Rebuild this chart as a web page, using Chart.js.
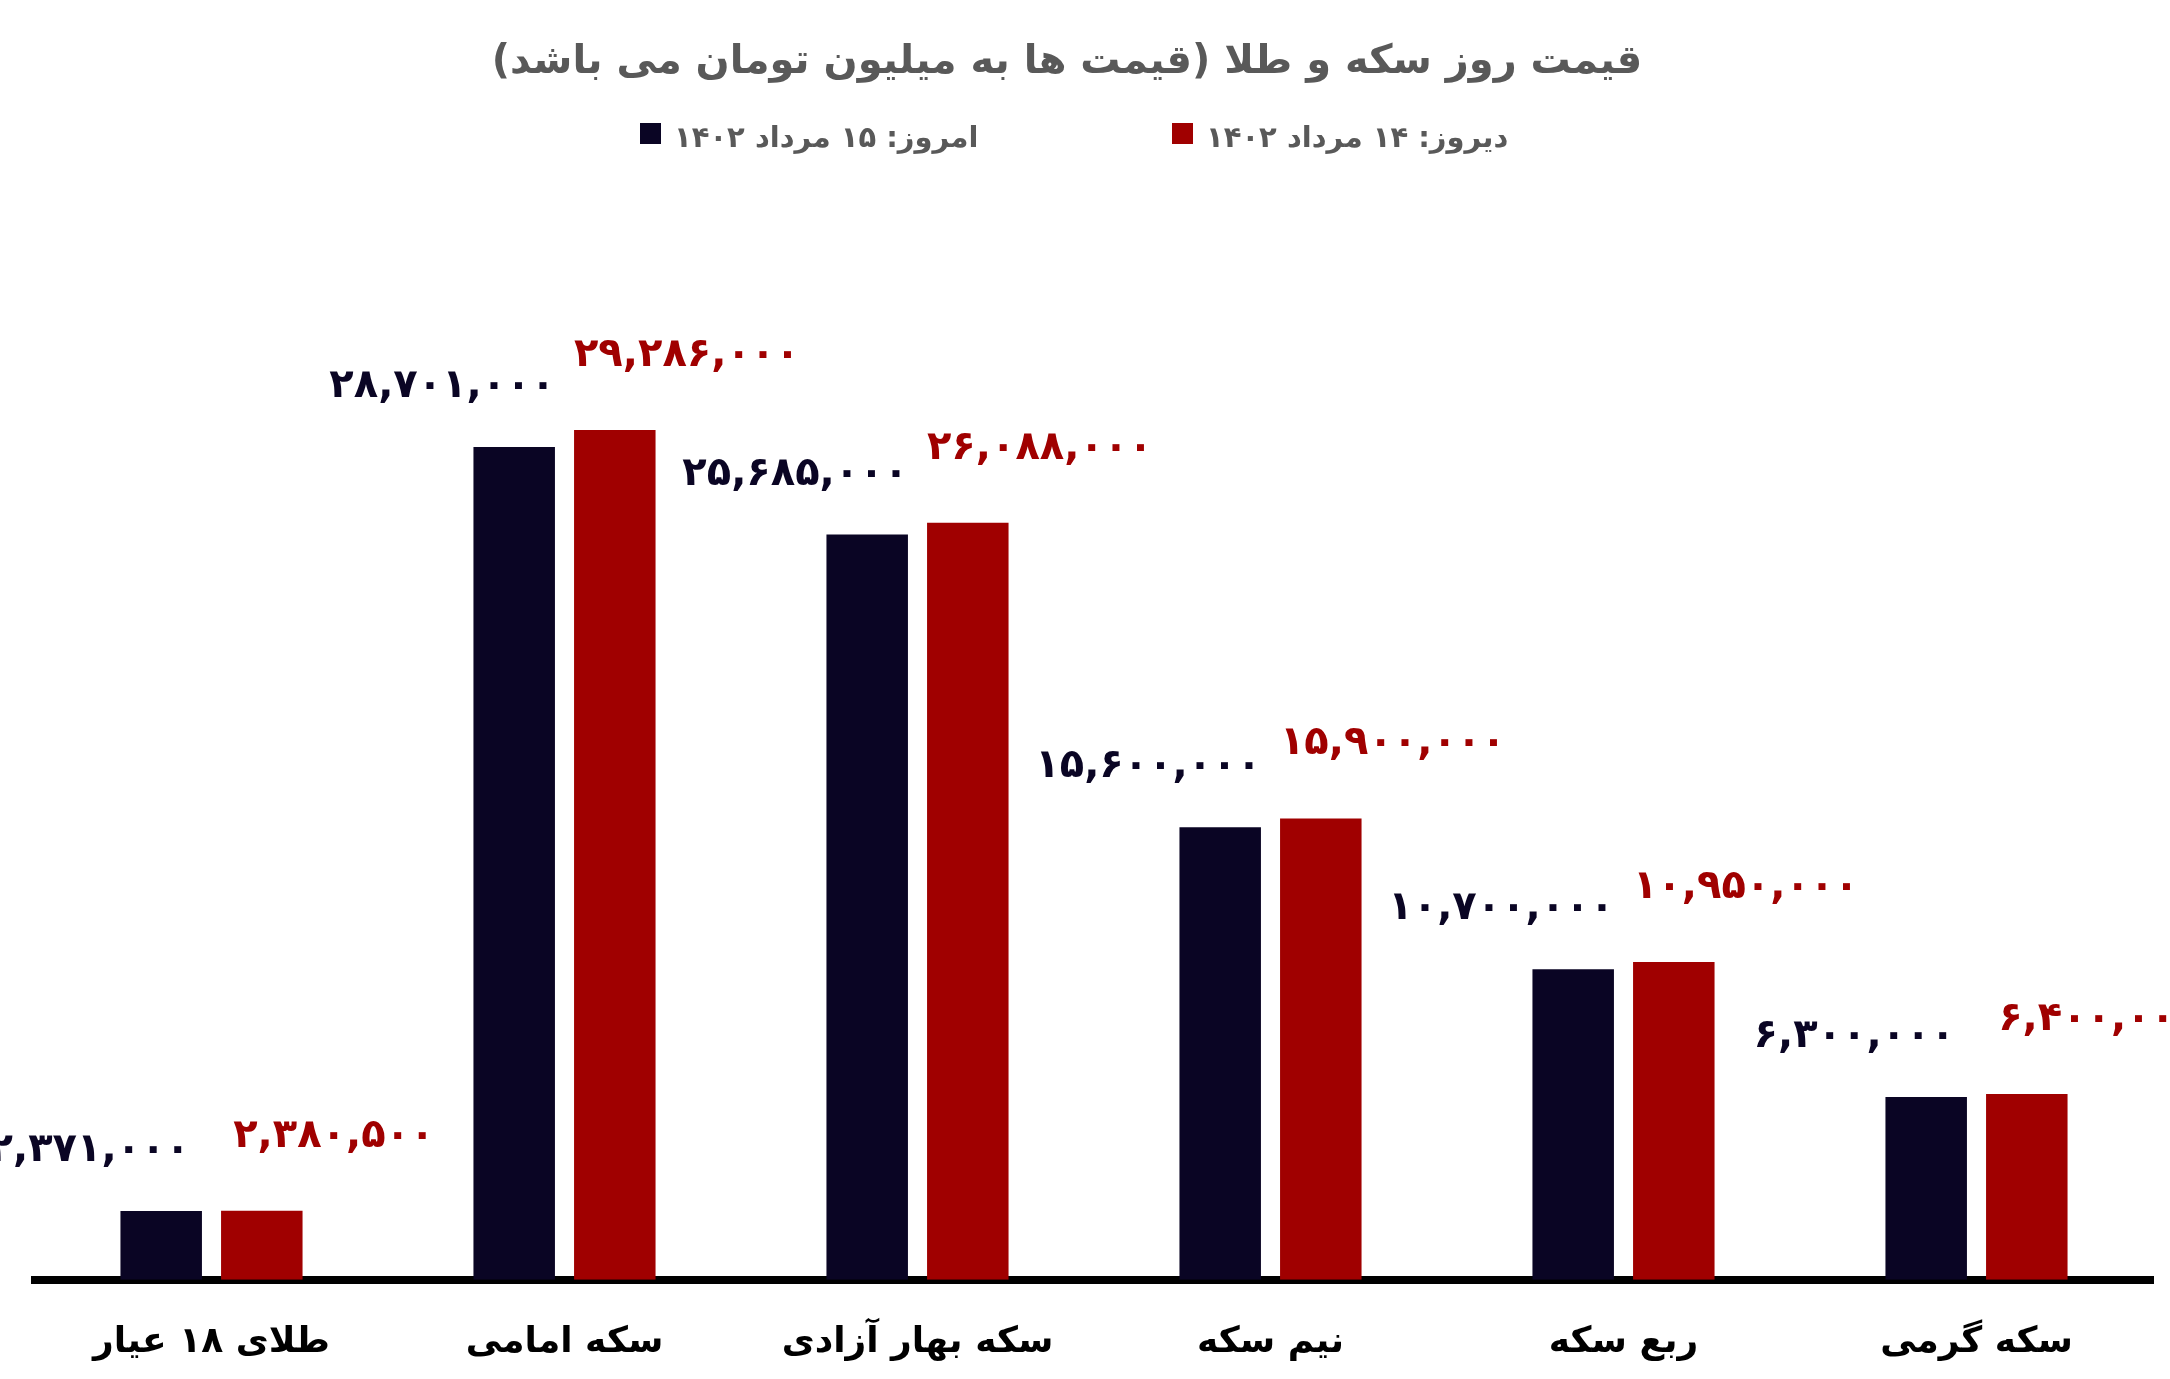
<!DOCTYPE html>
<html><head><meta charset="utf-8">
<script src="https://cdn.jsdelivr.net/npm/chart.js@4"></script>
<style>html,body{margin:0;background:#fff}#w{width:2170px;height:1379px}</style>
</head><body><div id="w"><canvas id="c"></canvas></div>
<script>
const categories = ['طلای ۱۸ عیار','سکه امامی','سکه بهار آزادی','نیم سکه','ربع سکه','سکه گرمی'];
const todayValues = [2371000, 28701000, 25685000, 15600000, 10700000, 6300000];
const yesterdayValues = [2380500, 29286000, 26088000, 15900000, 10950000, 6400000];
const seriesNames = ['امروز: ۱۵ مرداد ۱۴۰۲','دیروز: ۱۴ مرداد ۱۴۰۲'];
const seriesColors = ['#0a0524','#a00000'];
const titleText = 'قیمت روز سکه و طلا (قیمت ها به میلیون تومان می باشد)';
const FONT = '"DejaVu Sans", sans-serif';
function fa(n){
  const s = n.toString().replace(/\B(?=(\d{3})+(?!\d))/g, ',');
  return s.replace(/\d/g, d => '۰۱۲۳۴۵۶۷۸۹'[d]);
}
const headerPlugin = {
  id:'hdr',
  afterDraw(chart){
    const ctx = chart.ctx;
    ctx.save();
    ctx.fillStyle = '#595959';
    ctx.font = 'bold 40px ' + FONT;
    ctx.textAlign = 'center';
    ctx.textBaseline = 'middle';
    ctx.fillText(titleText, 1067, 63);
    ctx.font = 'bold 29px ' + FONT;
    ctx.textAlign = 'left';
    const boxX = [640, 1172];
    seriesNames.forEach((t, i) => {
      ctx.fillStyle = seriesColors[i];
      ctx.fillRect(boxX[i], 123, 21, 21);
      ctx.fillStyle = '#595959';
      ctx.fillText(t, boxX[i] + 34, 139);
    });
    ctx.restore();
  }
};
const labelPlugin = {
  id:'lbl',
  afterDatasetsDraw(chart){
    const ctx = chart.ctx;
    ctx.save();
    ctx.font = 'bold 40px ' + FONT;
    ctx.textAlign = 'center';
    ctx.textBaseline = 'alphabetic';
    ctx.direction = 'ltr';
    chart.data.datasets.forEach((ds, di) => {
      chart.getDatasetMeta(di).data.forEach((bar, i) => {
        ctx.fillStyle = seriesColors[di];
        const dx = di === 0 ? -72 : 72;
        const dy = di === 0 ? -50 : -64;
        ctx.fillText(fa(ds.data[i]), bar.x + dx, bar.y + dy);
      });
    });
    ctx.restore();
  }
};
new Chart(document.getElementById('c'), {
  type:'bar',
  data:{labels:categories, datasets:[
    {label:seriesNames[0], data:todayValues, backgroundColor:seriesColors[0]},
    {label:seriesNames[1], data:yesterdayValues, backgroundColor:seriesColors[1]}
  ]},
  options:{
    responsive:true, maintainAspectRatio:false, animation:false,
    devicePixelRatio:1,
    layout:{padding:{left:35,right:17,top:170,bottom:-26}},
    datasets:{bar:{categoryPercentage:0.57,barPercentage:0.81}},
    plugins:{ title:{display:false}, legend:{display:false}, tooltip:{enabled:false} },
    scales:{
      x:{grid:{display:false,drawTicks:false},border:{display:true,color:'#000',width:8},
         ticks:{color:'#000',font:{family:FONT,size:36,weight:'bold'},padding:41}},
      y:{display:false,min:0,max:38250000}
    }
  },
  plugins:[labelPlugin, headerPlugin]
});
</script></body></html>
